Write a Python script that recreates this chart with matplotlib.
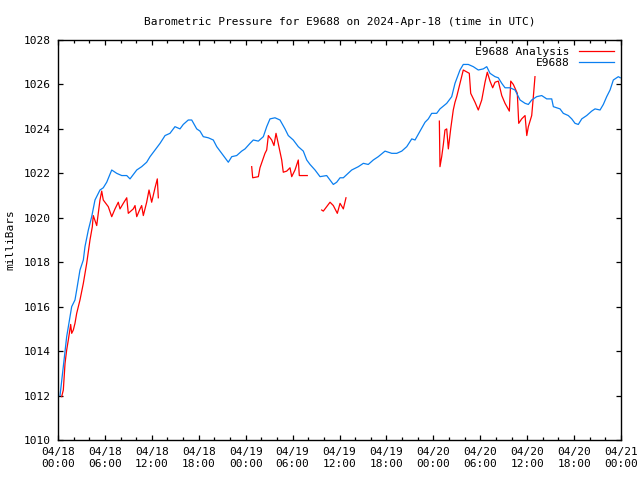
import matplotlib
matplotlib.use("Agg")
import matplotlib.pyplot as plt
import numpy as np

# hours since 2024-04-18 00:00 UTC
station_h = [0.26, 0.68, 1.11, 1.53, 1.75, 2.17, 2.39, 2.81, 3.24, 3.45, 3.88, 4.31, 4.73, 5.37, 5.79,
             6.23, 6.87, 7.51, 8.15, 8.79, 9.21, 10.07, 10.7, 11.34, 11.77, 12.41, 13.05, 13.69, 14.32,
             14.96, 15.6, 16.02, 16.66, 17.1, 17.74, 18.16, 18.58, 19.22, 19.86, 20.3, 20.94, 21.58,
             21.78, 22.22, 22.85, 23.49, 23.92, 24.56, 24.98, 25.62, 26.26, 26.69, 27.11, 27.75, 28.39,
             29.03, 29.45, 30.09, 30.73, 31.37, 31.81, 32.23, 32.87, 33.51, 34.36, 34.79, 35.21, 35.64,
             36.07, 36.49, 37.56, 38.41, 39.05, 39.68, 40.32, 40.96, 41.82, 42.68, 43.32, 43.96, 44.6,
             45.24, 45.66, 46.3, 46.94, 47.36, 47.79, 48.43, 48.85, 49.71, 50.35, 50.77, 51.41, 51.83,
             52.47, 53.11, 53.75, 54.39, 54.83, 55.25, 55.89, 56.31, 56.75, 57.17, 57.81, 58.45, 59.09,
             59.73, 60.15, 60.58, 61.22, 61.86, 62.5, 63.14, 63.35, 64.2, 64.62, 65.26, 65.7, 66.12,
             66.54, 66.98, 67.61, 68.25, 68.68, 69.32, 69.74, 70.17, 70.6, 71.02, 71.66, 71.9]
station_p = [1012.0, 1013.3, 1014.65, 1015.55, 1016.0, 1016.3, 1016.75, 1017.65, 1018.1, 1018.7, 1019.45,
             1020.05, 1020.8, 1021.25, 1021.35, 1021.6, 1022.15, 1022.0, 1021.9, 1021.9, 1021.75, 1022.15,
             1022.3, 1022.5, 1022.75, 1023.05, 1023.35, 1023.7, 1023.8, 1024.1, 1024.0, 1024.2, 1024.4,
             1024.4, 1024.0, 1023.9, 1023.65, 1023.6, 1023.5, 1023.2, 1022.9, 1022.6, 1022.5, 1022.75,
             1022.8, 1023.0, 1023.1, 1023.35, 1023.5, 1023.45, 1023.65, 1024.1, 1024.45, 1024.5, 1024.4,
             1024.0, 1023.7, 1023.5, 1023.2, 1023.0, 1022.6, 1022.4, 1022.15, 1021.85, 1021.9, 1021.7,
             1021.5, 1021.6, 1021.8, 1021.8, 1022.15, 1022.3, 1022.45, 1022.4, 1022.6, 1022.75, 1023.0,
             1022.9, 1022.9, 1023.0, 1023.2, 1023.55, 1023.5, 1023.9, 1024.3, 1024.45, 1024.7, 1024.7,
             1024.9, 1025.15, 1025.45, 1026.05, 1026.65, 1026.9, 1026.9, 1026.8, 1026.65, 1026.7, 1026.8,
             1026.5, 1026.35, 1026.3, 1026.05, 1025.85, 1025.85, 1025.75, 1025.3, 1025.15, 1025.1, 1025.3,
             1025.45, 1025.5, 1025.35, 1025.35, 1025.0, 1024.9, 1024.7, 1024.6, 1024.45, 1024.25, 1024.2,
             1024.45, 1024.6, 1024.8, 1024.9, 1024.85, 1025.1, 1025.45, 1025.75, 1026.2, 1026.35, 1026.3]

# analysis series, in separate segments (gaps between them)
ana_h1 = [0.47, 0.68, 0.9, 1.11, 1.32, 1.62, 1.75, 1.96, 2.17, 2.39, 2.81, 3.24, 3.67, 4.09, 4.39, 4.51,
          4.95, 5.15, 5.37, 5.59, 5.79, 6.43, 6.87, 7.29, 7.71, 7.93, 8.35, 8.79, 8.99, 9.63, 9.85, 10.07,
          10.49, 10.7, 10.91, 11.34, 11.64, 11.98, 12.41, 12.7, 12.83]
ana_p1 = [1011.95, 1012.25, 1013.45, 1014.05, 1014.5, 1015.2, 1014.8, 1014.95, 1015.25, 1015.7, 1016.3,
          1017.05, 1017.95, 1019.0, 1019.6, 1020.1, 1019.65, 1020.2, 1020.8, 1021.2, 1020.8, 1020.5,
          1020.05, 1020.4, 1020.7, 1020.4, 1020.65, 1020.9, 1020.2, 1020.4, 1020.55, 1020.05, 1020.4,
          1020.55, 1020.1, 1020.7, 1021.25, 1020.7, 1021.35, 1021.75, 1020.9]
ana_h2 = [24.77, 24.9, 25.62, 25.83, 26.47, 26.69, 26.9, 27.33, 27.62, 27.88, 28.1, 28.61, 28.81, 29.25,
          29.67, 29.89, 30.31, 30.73, 30.86, 31.88]
ana_p2 = [1022.3, 1021.8, 1021.85, 1022.25, 1022.9, 1023.05, 1023.7, 1023.5, 1023.25, 1023.8, 1023.45,
          1022.6, 1022.05, 1022.1, 1022.25, 1021.85, 1022.15, 1022.6, 1021.9, 1021.9]
ana_h3 = [33.72, 33.93, 34.79, 35.21, 35.72, 36.07, 36.49, 36.83]
ana_p3 = [1020.35, 1020.3, 1020.7, 1020.55, 1020.2, 1020.65, 1020.4, 1020.9]
ana_h4 = [48.77, 48.85, 49.07, 49.28, 49.49, 49.71, 49.92, 50.22, 50.55, 50.77, 50.99, 51.41, 51.83, 52.6,
          52.78, 53.33, 53.75, 54.19, 54.61, 54.9, 55.25, 55.59, 55.89, 56.31, 56.75, 57.17, 57.72, 57.9,
          58.23, 58.74, 58.92, 59.3, 59.73, 59.95, 60.15, 60.58, 60.79, 61.0]
ana_p4 = [1024.35, 1022.3, 1022.75, 1023.3, 1023.95, 1024.0, 1023.1, 1024.0, 1024.85, 1025.2, 1025.45,
          1026.05, 1026.65, 1026.5, 1025.6, 1025.2, 1024.85, 1025.3, 1026.1, 1026.55, 1026.15, 1025.85,
          1026.1, 1026.15, 1025.5, 1025.15, 1024.8, 1026.15, 1026.0, 1025.6, 1024.25, 1024.45, 1024.6,
          1023.7, 1024.1, 1024.6, 1025.45, 1026.35]

tick_hours = list(range(0, 73, 6))
tick_labels = ["04/18\n00:00", "04/18\n06:00", "04/18\n12:00", "04/18\n18:00",
               "04/19\n00:00", "04/19\n06:00", "04/19\n12:00", "04/19\n18:00",
               "04/20\n00:00", "04/20\n06:00", "04/20\n12:00", "04/20\n18:00",
               "04/21\n00:00"]
minor_hours = [h for h in range(0, 73, 2) if h % 6 != 0]
y_ticks = list(range(1010, 1029, 2))

plt.rcParams['font.family'] = ['DejaVu Sans Mono']
fig = plt.figure(figsize=(6.4, 4.8), dpi=100)
ax = fig.add_axes([58/640, 40/480, 563/640, 400/480])

red = '#ff0000'
blue = '#0a7ff0'
ana = [(ana_h1, ana_p1), (ana_h2, ana_p2), (ana_h3, ana_p3), (ana_h4, ana_p4)]
for i, (h, p) in enumerate(ana):
    ax.plot(h, p, color=red, lw=0.9, label='E9688 Analysis' if i == 0 else None)
ax.plot(station_h, station_p, color=blue, lw=0.9, label='E9688')

ax.set_xlim(0, 72)
ax.set_ylim(1010, 1028)
ax.set_xticks(tick_hours)
ax.set_xticklabels(tick_labels)
ax.set_xticks(minor_hours, minor=True)
ax.set_yticks(y_ticks)
ax.tick_params(axis='both', which='major', direction='in', length=3.6, width=0.9,
               top=True, right=True, labelsize=8, pad=5)
ax.tick_params(axis='x', which='minor', direction='in', length=1.9, width=0.9, top=True)
for s in ax.spines.values():
    s.set_linewidth(1.0)

ax.set_ylabel('milliBars', fontsize=8, labelpad=6.5)
ax.set_title('Barometric Pressure for E9688 on 2024-Apr-18 (time in UTC)', fontsize=8, pad=11)

leg = ax.legend(loc='upper right', frameon=False, markerfirst=False, fontsize=8,
                handlelength=3.2, borderaxespad=0.2, labelspacing=0.1, handletextpad=0.8)

fig.savefig('out.png', dpi=100)
